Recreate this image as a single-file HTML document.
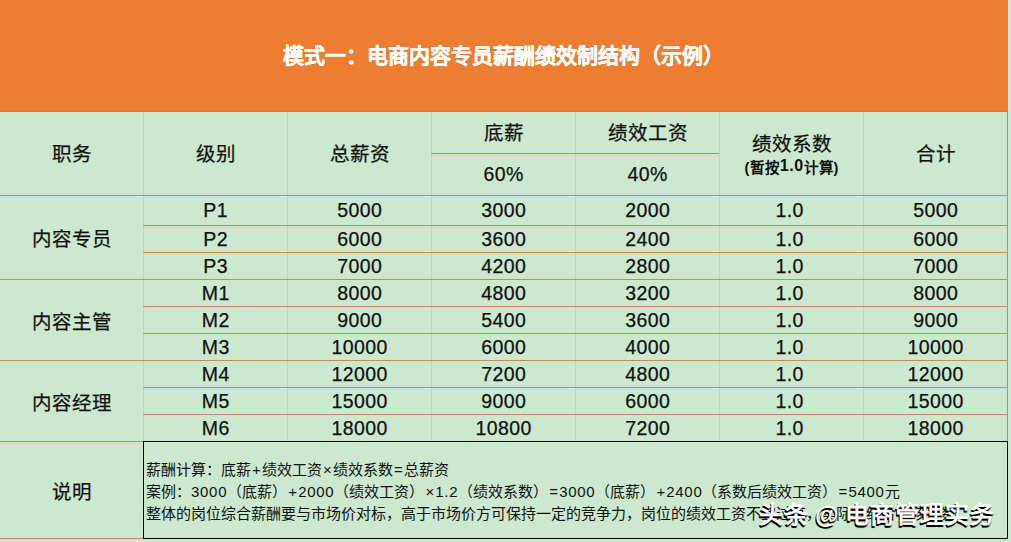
<!DOCTYPE html>
<html lang="zh-CN">
<head>
<meta charset="utf-8">
<style>
html,body{margin:0;padding:0;}
body{width:1011px;height:542px;overflow:hidden;position:relative;background:#CCE8CF;font-family:"Liberation Sans",sans-serif;color:#111;}
.a{position:absolute;}
.hd{position:absolute;left:0;top:0;width:1008px;height:112px;background:#ED7D31;}
.t{position:absolute;left:283px;top:-1.5px;height:111px;display:flex;align-items:center;color:#fff;font-weight:bold;font-size:21px;white-space:nowrap;-webkit-text-stroke:0.3px #fff;}
.hl{position:absolute;height:1px;background:#C9894F;}
.vl{position:absolute;width:1px;background:#BCD4C7;}
.c{position:absolute;display:flex;align-items:center;justify-content:center;white-space:nowrap;font-size:19.5px;-webkit-text-stroke:0.25px #111;}
.n{font-size:19.5px;letter-spacing:0.4px;text-indent:0.4px;}
.box{position:absolute;left:143px;top:441px;width:863px;height:96px;border:1px solid #000;}
.ex{position:absolute;left:146px;font-size:15px;white-space:nowrap;line-height:22px;}
.ex .d{letter-spacing:0.7px;}
.ex .s{padding:0 1.1px;}
.wm{position:absolute;left:759px;top:500px;font-size:24px;line-height:30px;font-weight:bold;letter-spacing:1px;color:#fff;white-space:nowrap;text-shadow:-1px 2px 0 #000,0 2px 1px rgba(0,0,0,.5);}
</style>
</head>
<body>
<div class="hd"><div class="a" style="left:0;top:111px;width:1008px;height:1px;background:#D9773A"></div></div>
<div class="t">模式一：电商内容专员薪酬绩效制结构（示例）</div>
<div class="vl" style="left:143px;top:112px;height:329px"></div>
<div class="vl" style="left:287px;top:112px;height:329px"></div>
<div class="vl" style="left:431px;top:112px;height:329px"></div>
<div class="vl" style="left:575px;top:112px;height:329px"></div>
<div class="vl" style="left:719px;top:112px;height:329px"></div>
<div class="vl" style="left:863px;top:112px;height:329px"></div>
<div class="vl" style="left:1007px;top:112px;height:427px;background:#D9823F"></div>
<div class="hl" style="left:431px;top:153px;width:288px"></div>
<div class="hl" style="left:0;top:195px;width:1008px"></div>
<div class="hl" style="left:143px;top:225px;width:865px"></div>
<div class="hl" style="left:143px;top:252px;width:865px"></div>
<div class="hl" style="left:0;top:279px;width:1008px"></div>
<div class="hl" style="left:143px;top:306px;width:865px"></div>
<div class="hl" style="left:143px;top:333px;width:865px"></div>
<div class="hl" style="left:0;top:360px;width:1008px"></div>
<div class="hl" style="left:143px;top:387px;width:865px"></div>
<div class="hl" style="left:143px;top:414px;width:865px"></div>
<div class="hl" style="left:0;top:441px;width:1008px"></div>
<div class="hl" style="left:0;top:538px;width:143px"></div>
<div class="c " style="left:1px;top:111px;width:142px;height:83px">职务</div>
<div class="c " style="left:144px;top:111px;width:143px;height:83px">级别</div>
<div class="c " style="left:288px;top:111px;width:143px;height:83px">总薪资</div>
<div class="c " style="left:432px;top:111px;width:143px;height:41px">底薪</div>
<div class="c " style="left:576px;top:111px;width:143px;height:41px">绩效工资</div>
<div class="c n" style="left:432px;top:154px;width:143px;height:41px">60%</div>
<div class="c n" style="left:576px;top:154px;width:143px;height:41px">40%</div>
<div class="c" style="left:720px;top:130px;width:143px;height:24px">绩效系数</div>
<div class="c" style="left:720px;top:155px;width:143px;height:22px;font-size:14.5px;font-weight:bold;-webkit-text-stroke:0;letter-spacing:0.6px;text-indent:0.6px">(暂按<span style="font-size:16px">1.0</span>计算)</div>
<div class="c " style="left:864px;top:111px;width:143px;height:83px">合计</div>
<div class="c n" style="left:144px;top:196px;width:143px;height:29px">P1</div>
<div class="c n" style="left:288px;top:196px;width:143px;height:29px">5000</div>
<div class="c n" style="left:432px;top:196px;width:143px;height:29px">3000</div>
<div class="c n" style="left:576px;top:196px;width:143px;height:29px">2000</div>
<div class="c n" style="left:718px;top:196px;width:143px;height:29px">1.0</div>
<div class="c n" style="left:864px;top:196px;width:143px;height:29px">5000</div>
<div class="c n" style="left:144px;top:226px;width:143px;height:26px">P2</div>
<div class="c n" style="left:288px;top:226px;width:143px;height:26px">6000</div>
<div class="c n" style="left:432px;top:226px;width:143px;height:26px">3600</div>
<div class="c n" style="left:576px;top:226px;width:143px;height:26px">2400</div>
<div class="c n" style="left:718px;top:226px;width:143px;height:26px">1.0</div>
<div class="c n" style="left:864px;top:226px;width:143px;height:26px">6000</div>
<div class="c n" style="left:144px;top:253px;width:143px;height:26px">P3</div>
<div class="c n" style="left:288px;top:253px;width:143px;height:26px">7000</div>
<div class="c n" style="left:432px;top:253px;width:143px;height:26px">4200</div>
<div class="c n" style="left:576px;top:253px;width:143px;height:26px">2800</div>
<div class="c n" style="left:718px;top:253px;width:143px;height:26px">1.0</div>
<div class="c n" style="left:864px;top:253px;width:143px;height:26px">7000</div>
<div class="c n" style="left:144px;top:280px;width:143px;height:26px">M1</div>
<div class="c n" style="left:288px;top:280px;width:143px;height:26px">8000</div>
<div class="c n" style="left:432px;top:280px;width:143px;height:26px">4800</div>
<div class="c n" style="left:576px;top:280px;width:143px;height:26px">3200</div>
<div class="c n" style="left:718px;top:280px;width:143px;height:26px">1.0</div>
<div class="c n" style="left:864px;top:280px;width:143px;height:26px">8000</div>
<div class="c n" style="left:144px;top:307px;width:143px;height:26px">M2</div>
<div class="c n" style="left:288px;top:307px;width:143px;height:26px">9000</div>
<div class="c n" style="left:432px;top:307px;width:143px;height:26px">5400</div>
<div class="c n" style="left:576px;top:307px;width:143px;height:26px">3600</div>
<div class="c n" style="left:718px;top:307px;width:143px;height:26px">1.0</div>
<div class="c n" style="left:864px;top:307px;width:143px;height:26px">9000</div>
<div class="c n" style="left:144px;top:334px;width:143px;height:26px">M3</div>
<div class="c n" style="left:288px;top:334px;width:143px;height:26px">10000</div>
<div class="c n" style="left:432px;top:334px;width:143px;height:26px">6000</div>
<div class="c n" style="left:576px;top:334px;width:143px;height:26px">4000</div>
<div class="c n" style="left:718px;top:334px;width:143px;height:26px">1.0</div>
<div class="c n" style="left:864px;top:334px;width:143px;height:26px">10000</div>
<div class="c n" style="left:144px;top:361px;width:143px;height:26px">M4</div>
<div class="c n" style="left:288px;top:361px;width:143px;height:26px">12000</div>
<div class="c n" style="left:432px;top:361px;width:143px;height:26px">7200</div>
<div class="c n" style="left:576px;top:361px;width:143px;height:26px">4800</div>
<div class="c n" style="left:718px;top:361px;width:143px;height:26px">1.0</div>
<div class="c n" style="left:864px;top:361px;width:143px;height:26px">12000</div>
<div class="c n" style="left:144px;top:388px;width:143px;height:26px">M5</div>
<div class="c n" style="left:288px;top:388px;width:143px;height:26px">15000</div>
<div class="c n" style="left:432px;top:388px;width:143px;height:26px">9000</div>
<div class="c n" style="left:576px;top:388px;width:143px;height:26px">6000</div>
<div class="c n" style="left:718px;top:388px;width:143px;height:26px">1.0</div>
<div class="c n" style="left:864px;top:388px;width:143px;height:26px">15000</div>
<div class="c n" style="left:144px;top:415px;width:143px;height:26px">M6</div>
<div class="c n" style="left:288px;top:415px;width:143px;height:26px">18000</div>
<div class="c n" style="left:432px;top:415px;width:143px;height:26px">10800</div>
<div class="c n" style="left:576px;top:415px;width:143px;height:26px">7200</div>
<div class="c n" style="left:718px;top:415px;width:143px;height:26px">1.0</div>
<div class="c n" style="left:864px;top:415px;width:143px;height:26px">18000</div>
<div class="c " style="left:1px;top:196px;width:142px;height:83px">内容专员</div>
<div class="c " style="left:1px;top:280px;width:142px;height:80px">内容主管</div>
<div class="c " style="left:1px;top:361px;width:142px;height:80px">内容经理</div>
<div class="c " style="left:1px;top:442px;width:142px;height:96px">说明</div>
<div class="box"></div>
<div class="ex" style="top:458.5px">薪酬计算：底薪<span class="s">+</span>绩效工资<span class="s">×</span>绩效系数<span class="s">=</span>总薪资</div>
<div class="ex" style="top:481px">案例：<span class="d">3000</span>（底薪）<span class="s">+</span><span class="d">2000</span>（绩效工资）<span class="s">×</span><span class="d">1.2</span>（绩效系数）<span class="s">=</span><span class="d">3000</span>（底薪）<span class="s">+</span><span class="d">2400</span>（系数后绩效工资）<span class="s">=</span><span class="d">5400</span>元</div>
<div class="ex" style="top:503px">整体的岗位综合薪酬要与市场价对标，高于市场价方可保持一定的竞争力，岗位的绩效工资不宜过高，实际需结合考核系数</div>
<div class="wm" style="left:759px">头条</div><div class="wm" style="left:815px">@</div><div class="wm" style="left:845px">电商管理实务</div>
</body>
</html>
